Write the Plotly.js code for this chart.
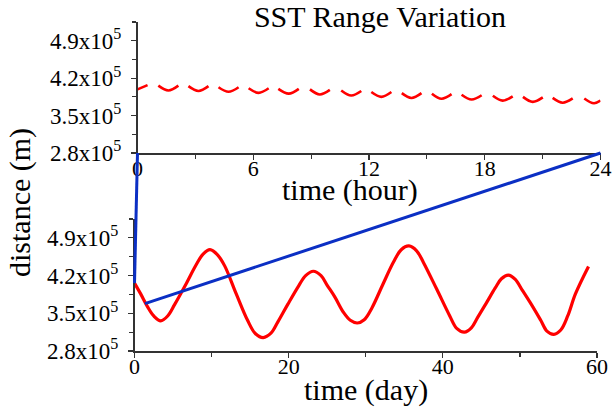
<!DOCTYPE html>
<html>
<head>
<meta charset="utf-8">
<script src="https://cdn.plot.ly/plotly-3.0.1.min.js"></script>
<style>
html,body{margin:0;padding:0;background:#fff;}
#chart{width:614px;height:414px;}
</style>
</head>
<body>
<div id="chart"></div>
<script>
// ---------- data ----------
// Top panel: one day in hours, red dashed-looking arcs (segments separated by null)
const hourX = [0, 0.52, null,
  1.08, 1.60, 2.12, null,
  2.64, 3.16, 3.68, null,
  4.20, 4.72, 5.24, null,
  5.76, 6.28, 6.80, null,
  7.30, 7.84, 8.36, null,
  8.94, 9.45, 9.97, null,
  10.56, 11.08, 11.60, null,
  12.12, 12.64, 13.16, null,
  13.70, 14.20, 14.72, null,
  15.26, 15.76, 16.28, null,
  16.80, 17.32, 17.84, null,
  18.42, 18.93, 19.45, null,
  19.98, 20.49, 21.01, null,
  21.52, 22.04, 22.56, null,
  23.16, 23.66, 24.0];
const hourRange = [3.99e5, 4.07e5, null,
  4.06e5, 3.97e5, 4.06e5, null,
  4.05e5, 3.96e5, 4.05e5, null,
  4.03e5, 3.945e5, 4.03e5, null,
  4.01e5, 3.925e5, 4.01e5, null,
  4.00e5, 3.91e5, 4.00e5, null,
  3.99e5, 3.895e5, 3.98e5, null,
  3.97e5, 3.876e5, 3.96e5, null,
  3.94e5, 3.85e5, 3.94e5, null,
  3.92e5, 3.83e5, 3.92e5, null,
  3.91e5, 3.815e5, 3.90e5, null,
  3.89e5, 3.80e5, 3.88e5, null,
  3.87e5, 3.78e5, 3.86e5, null,
  3.85e5, 3.757e5, 3.84e5, null,
  3.83e5, 3.74e5, 3.82e5, null,
  3.82e5, 3.73e5, 3.78e5];

// Bottom panel: 60 days
const dayX = [0, 0.8, 1.7, 2.5, 3.4, 4.3, 5.2, 6.6, 8.0, 8.9, 9.8, 10.8, 11.7, 13.2, 14.7, 15.7, 16.7,
  17.7, 18.6, 19.9, 21.3, 22.2, 23.2, 24.2, 25.0, 26.0, 27.1, 28.0, 28.9, 29.8, 30.8, 32.2, 33.6,
  34.6, 35.6, 36.6, 37.5, 39.2, 40.9, 41.8, 42.8, 43.7, 44.5, 45.6, 46.8, 47.6, 48.5, 49.4, 50.3,
  51.5, 52.7, 53.5, 54.4, 55.3, 56.2, 57.2, 58.9];
const dayRange = [4.06e5, 3.86e5, 3.62e5, 3.45e5, 3.36e5, 3.45e5, 3.66e5, 4.02e5, 4.40e5, 4.60e5, 4.68e5,
  4.58e5, 4.38e5, 3.86e5, 3.36e5, 3.12e5, 3.05e5, 3.13e5, 3.34e5, 3.67e5, 4.01e5, 4.20e5, 4.28e5,
  4.20e5, 4.02e5, 3.80e5, 3.52e5, 3.37e5, 3.32e5, 3.38e5, 3.60e5, 4.03e5, 4.45e5, 4.68e5, 4.75e5,
  4.66e5, 4.44e5, 3.95e5, 3.45e5, 3.22e5, 3.15e5, 3.23e5, 3.42e5, 3.68e5, 3.97e5, 4.14e5, 4.21e5,
  4.13e5, 3.93e5, 3.66e5, 3.37e5, 3.17e5, 3.11e5, 3.19e5, 3.45e5, 3.86e5, 4.37e5];

// zoom connector (top panel axis corners -> bottom panel first day)
const connTopHours = [0, 24];
const connTopValue = 2.8e5;
const connBottomDays = [0, 1.35];
const connBottomValues = [4.06e5, 3.68e5];

// tick labels
const yTickVals = [2.8e5, 3.5e5, 4.2e5, 4.9e5];
const yTickText = ['2.8x10<sup>5</sup>', '3.5x10<sup>5</sup>', '4.2x10<sup>5</sup>', '4.9x10<sup>5</sup>'];
const hourTicks = [0, 6, 12, 18, 24];
const dayTicks = [0, 20, 40, 60];

// ---------- chart ----------
const FONT = 'Liberation Serif';
const RED = '#ff0000';
const BLUE = '#0b2fc4';
const AX = '#333333';

const traces = [
  {x: hourX, y: hourRange, type: 'scatter', mode: 'lines', xaxis: 'x', yaxis: 'y',
   line: {color: RED, width: 2.6, shape: 'spline', smoothing: 1}, connectgaps: false, hoverinfo: 'skip'},
  {x: dayX, y: dayRange, type: 'scatter', mode: 'lines', xaxis: 'x2', yaxis: 'y2',
   line: {color: RED, width: 3.2, shape: 'spline', smoothing: 1}, hoverinfo: 'skip'}
];

function yAxis(domain, anchor) {
  return {domain: domain, anchor: anchor, range: [2.8e5, 5.25e5], showgrid: false, zeroline: false,
    showline: true, linecolor: AX, linewidth: 1.5, ticks: 'outside', ticklen: 5, tickwidth: 1.2, tickcolor: AX,
    tickmode: 'array', tickvals: yTickVals, ticktext: yTickText, ticklabelstandoff: 5,
    minor: {ticks: 'outside', ticklen: 4, tickwidth: 1.2, tickcolor: AX, dtick: 0.35e5, tick0: 2.8e5, showgrid: false},
    tickfont: {family: FONT, size: 23, color: '#000'}, automargin: false};
}
function xAxis(domain, anchor, range, ticks, minorD) {
  return {domain: domain, anchor: anchor, range: range, showgrid: false, zeroline: false,
    showline: true, linecolor: AX, linewidth: 1.5, ticks: 'outside', ticklen: 5, tickwidth: 1.2, tickcolor: AX,
    tickmode: 'array', tickvals: ticks, ticktext: ticks.map(String), ticklabelstandoff: -10,
    minor: {ticks: 'outside', ticklen: 4, tickwidth: 1.2, tickcolor: AX, dtick: minorD, tick0: 0, showgrid: false},
    tickfont: {family: FONT, size: 22, color: '#000'}, automargin: false};
}

const layout = {
  width: 614, height: 414,
  margin: {l: 0, r: 0, t: 0, b: 0},
  paper_bgcolor: '#fff', plot_bgcolor: 'rgba(0,0,0,0)',
  showlegend: false,
  font: {family: FONT, color: '#000'},
  title: {text: 'SST Range Variation', font: {family: FONT, size: 30, color: '#000'},
    x: 380 / 614, xanchor: 'center', xref: 'paper', y: 1 - 16 / 414, yanchor: 'middle', yref: 'paper'},
  xaxis: xAxis([137.5 / 614, 600.5 / 614], 'y', [0, 24], hourTicks, 3),
  yaxis: yAxis([1 - 153 / 414, 1 - 22 / 414], 'x'),
  xaxis2: xAxis([134.5 / 614, 597 / 614], 'y2', [0, 60], dayTicks, 10),
  yaxis2: yAxis([1 - 351 / 414, 1 - 219 / 414], 'x2'),
  annotations: [
    {text: 'time (hour)', xref: 'paper', yref: 'paper', x: 350 / 614, y: 1 - 190 / 414,
     xanchor: 'center', yanchor: 'middle', showarrow: false, font: {family: FONT, size: 30, color: '#000'}},
    {text: 'time (day)', xref: 'paper', yref: 'paper', x: 366 / 614, y: 1 - 390 / 414,
     xanchor: 'center', yanchor: 'middle', showarrow: false, font: {family: FONT, size: 30, color: '#000'}},
    {text: 'distance (m)', xref: 'paper', yref: 'paper', x: 20 / 614, y: 1 - 203 / 414, textangle: -90,
     xanchor: 'center', yanchor: 'middle', showarrow: false, font: {family: FONT, size: 30, color: '#000'}}
  ]
};

const gd = document.getElementById('chart');
Plotly.newPlot(gd, traces, layout, {staticPlot: true, displayModeBar: false}).then(function () {
  const fl = gd._fullLayout;
  const s = fl._size;
  function toPaper(xaName, yaName, xv, yv) {
    const xa = fl[xaName], ya = fl[yaName];
    const px = xa._offset + xa.l2p(xv);
    const py = ya._offset + ya.l2p(yv);
    return [(px - s.l) / s.w, 1 - (py - s.t) / s.h];
  }
  const shapes = [];
  for (let i = 0; i < 2; i++) {
    const a = toPaper('xaxis', 'yaxis', connTopHours[i], connTopValue);
    const b = toPaper('xaxis2', 'yaxis2', connBottomDays[i], connBottomValues[i]);
    shapes.push({type: 'line', xref: 'paper', yref: 'paper', x0: a[0], y0: a[1], x1: b[0], y1: b[1],
      line: {color: BLUE, width: 3}, layer: 'above'});
  }
  return Plotly.relayout(gd, {shapes: shapes});
});
</script>
</body>
</html>
